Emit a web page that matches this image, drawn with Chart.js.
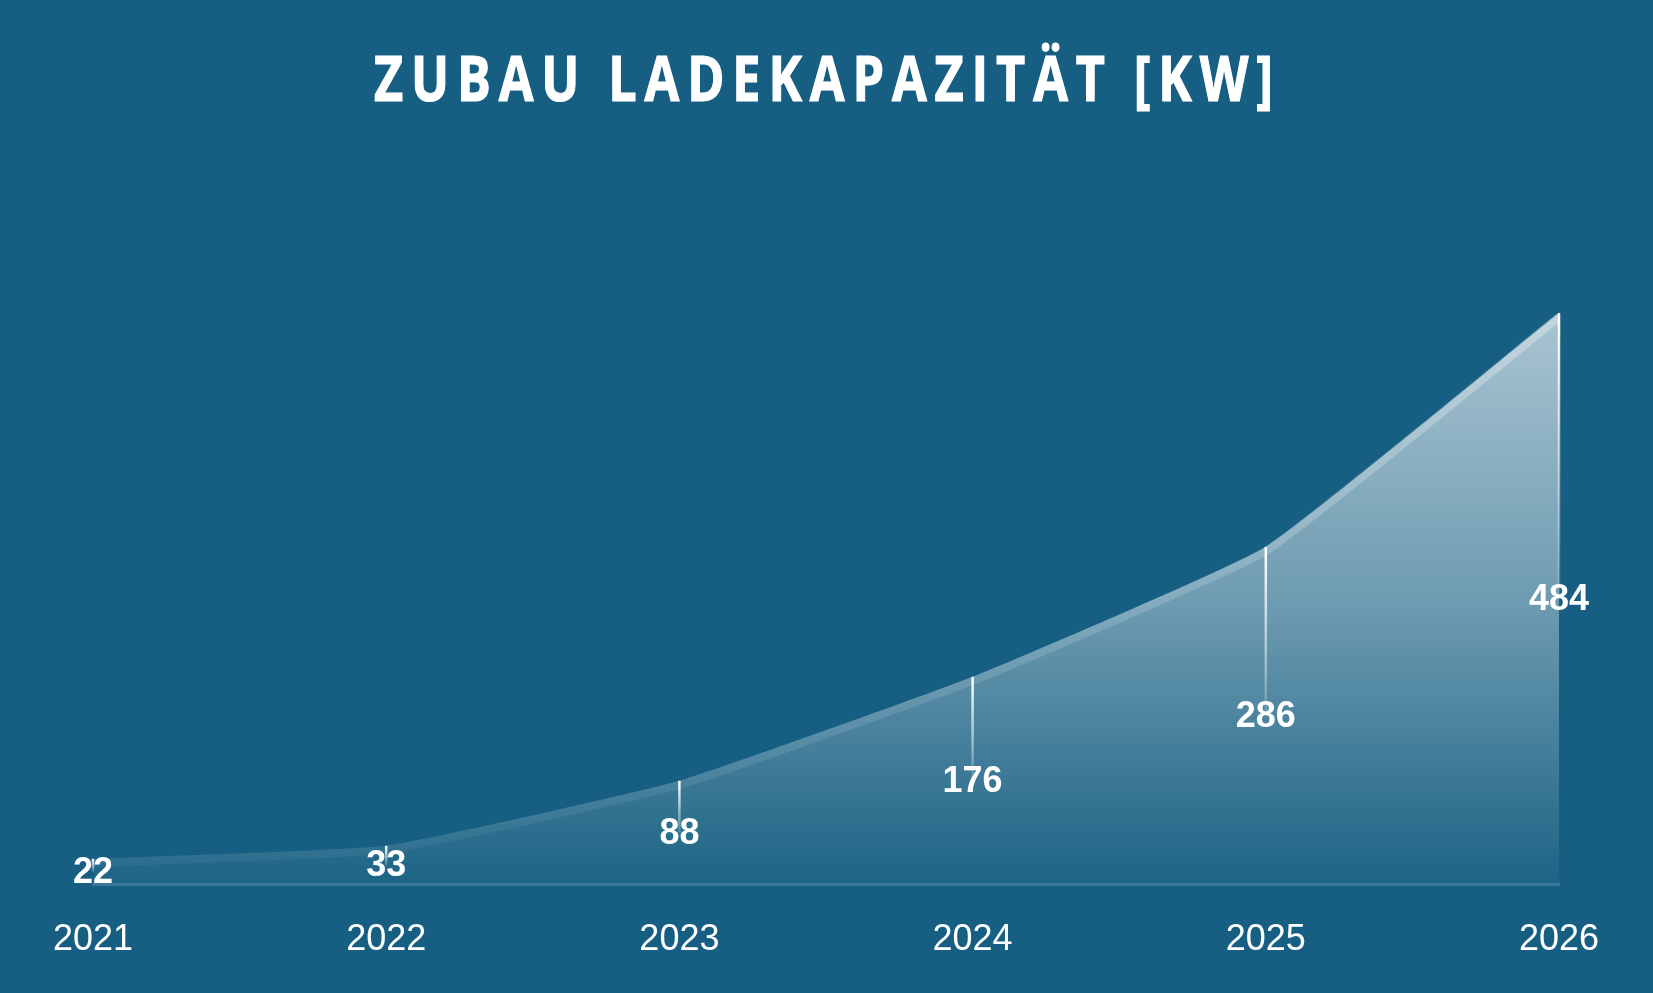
<!DOCTYPE html>
<html>
<head>
<meta charset="utf-8">
<script src="https://cdn.jsdelivr.net/npm/chart.js@4.4.1/dist/chart.umd.min.js"></script>
<style>
html,body{margin:0;padding:0;background:#165f82;}
#wrap{width:1653px;height:993px;position:relative;}
</style>
</head>
<body>
<div id="wrap"><canvas id="c"></canvas></div>
<script>
const chartTitle = 'ZUBAU LADEKAPAZITÄT [KW]';
const categories = ['2021', '2022', '2023', '2024', '2025', '2026'];
const values = [22, 33, 88, 176, 286, 484];
const yMin = 0;
const yMax = 484;

const BG = 'rgb(22,95,130)';

const bgPlugin = {
  id: 'bg',
  beforeDraw(chart) {
    const ctx = chart.ctx;
    ctx.save();
    ctx.fillStyle = BG;
    ctx.fillRect(0, 0, chart.width, chart.height);
    ctx.restore();
  }
};

const titlePlugin = {
  id: 'spacedTitle',
  afterDraw(chart) {
    const ctx = chart.ctx;
    const sx = 0.8;
    const left = 374, targetW = 899;
    ctx.save();
    ctx.fillStyle = '#ffffff';
    ctx.strokeStyle = '#ffffff';
    ctx.font = 'bold 63px "Open Sans"';
    ctx.letterSpacing = '0px';
    const w0 = ctx.measureText(chartTitle).width;
    const n = [...chartTitle].length - 1;
    const ls = Math.max(0, (targetW / sx - w0) / n);
    ctx.letterSpacing = ls.toFixed(2) + 'px';
    ctx.textAlign = 'left';
    ctx.textBaseline = 'alphabetic';
    ctx.translate(left, 100.5);
    ctx.scale(sx, 1);
    ctx.lineWidth = 1.2;
    ctx.lineJoin = 'miter';
    ctx.fillText(chartTitle, 0, 0);
    ctx.strokeText(chartTitle, 0, 0);
    ctx.restore();
  }
};

const markPlugin = {
  id: 'marks',
  afterDatasetsDraw(chart) {
    const ctx = chart.ctx;
    const meta = chart.getDatasetMeta(0);
    const ys = chart.scales.y;
    const area = chart.chartArea;
    const pts = meta.data;
    // light band along the top edge
    ctx.save();
    ctx.beginPath();
    ctx.rect(area.left, 0, area.right - area.left, chart.height);
    ctx.clip();
    ctx.translate(0, 4);
    ctx.beginPath();
    ctx.moveTo(pts[0].x, pts[0].y);
    for (let i = 1; i < pts.length; i++) {
      const p = pts[i - 1], c = pts[i];
      ctx.bezierCurveTo(p.cp2x, p.cp2y, c.cp1x, c.cp1y, c.x, c.y);
    }
    const bg = ctx.createLinearGradient(0, area.top, 0, area.bottom);
    bg.addColorStop(0, 'rgba(255,255,255,0.3)');
    bg.addColorStop(0.6, 'rgba(255,255,255,0.13)');
    bg.addColorStop(1, 'rgba(255,255,255,0.03)');
    ctx.lineWidth = 8;
    ctx.strokeStyle = bg;
    ctx.lineJoin = 'round';
    ctx.stroke();
    ctx.restore();

    // vertical drop lines and value labels
    ctx.save();
    for (let i = 0; i < values.length; i++) {
      const x = pts[i].x;
      const y1 = ys.getPixelForValue(values[i]);
      const y2 = ys.getPixelForValue(values[i] / 2);
      const g = ctx.createLinearGradient(0, y1, 0, y2);
      g.addColorStop(0, 'rgba(255,255,255,1)');
      g.addColorStop(1, 'rgba(255,255,255,0.15)');
      ctx.strokeStyle = g;
      ctx.lineWidth = 2.5;
      ctx.beginPath();
      ctx.moveTo(x, y1);
      ctx.lineTo(x, y2);
      ctx.stroke();
    }
    ctx.fillStyle = '#ffffff';
    ctx.font = 'bold 36px "Liberation Sans"';
    ctx.textAlign = 'center';
    ctx.textBaseline = 'middle';
    for (let i = 0; i < values.length; i++) {
      const x = pts[i].x;
      const y2 = ys.getPixelForValue(values[i] / 2);
      ctx.fillText(String(values[i]), x, y2 + 1);
    }
    ctx.restore();
  }
};

new Chart(document.getElementById('c'), {
  type: 'line',
  data: {
    labels: categories,
    datasets: [{
      data: values,
      fill: 'origin',
      tension: 0.12,
      borderWidth: 0,
      borderColor: 'rgba(0,0,0,0)',
      pointRadius: 0,
      pointHoverRadius: 0,
      clip: false,
      backgroundColor(context) {
        const chart = context.chart;
        const a = chart.chartArea;
        if (!a) return 'rgba(255,255,255,0.3)';
        const g = chart.ctx.createLinearGradient(0, a.top, 0, a.bottom);
        g.addColorStop(0, 'rgba(255,255,255,0.63)');
        g.addColorStop(0.5, 'rgba(255,255,255,0.38)');
        g.addColorStop(1, 'rgba(255,255,255,0.03)');
        return g;
      }
    }]
  },
  options: {
    responsive: true,
    maintainAspectRatio: false,
    animation: false,
    events: [],
    layout: { padding: { left: 93, right: 94, top: 313, bottom: 5 } },
    plugins: { legend: { display: false }, title: { display: false }, tooltip: { enabled: false } },
    scales: {
      x: {
        offset: false,
        grid: { display: false },
        border: { display: true, color: 'rgba(255,255,255,0.15)', width: 3 },
        ticks: {
          color: '#ffffff',
          font: { family: '"Liberation Sans"', size: 36 },
          padding: 26,
          maxRotation: 0
        }
      },
      y: {
        display: false,
        min: yMin,
        max: yMax
      }
    }
  },
  plugins: [bgPlugin, markPlugin, titlePlugin]
});
</script>
</body>
</html>
